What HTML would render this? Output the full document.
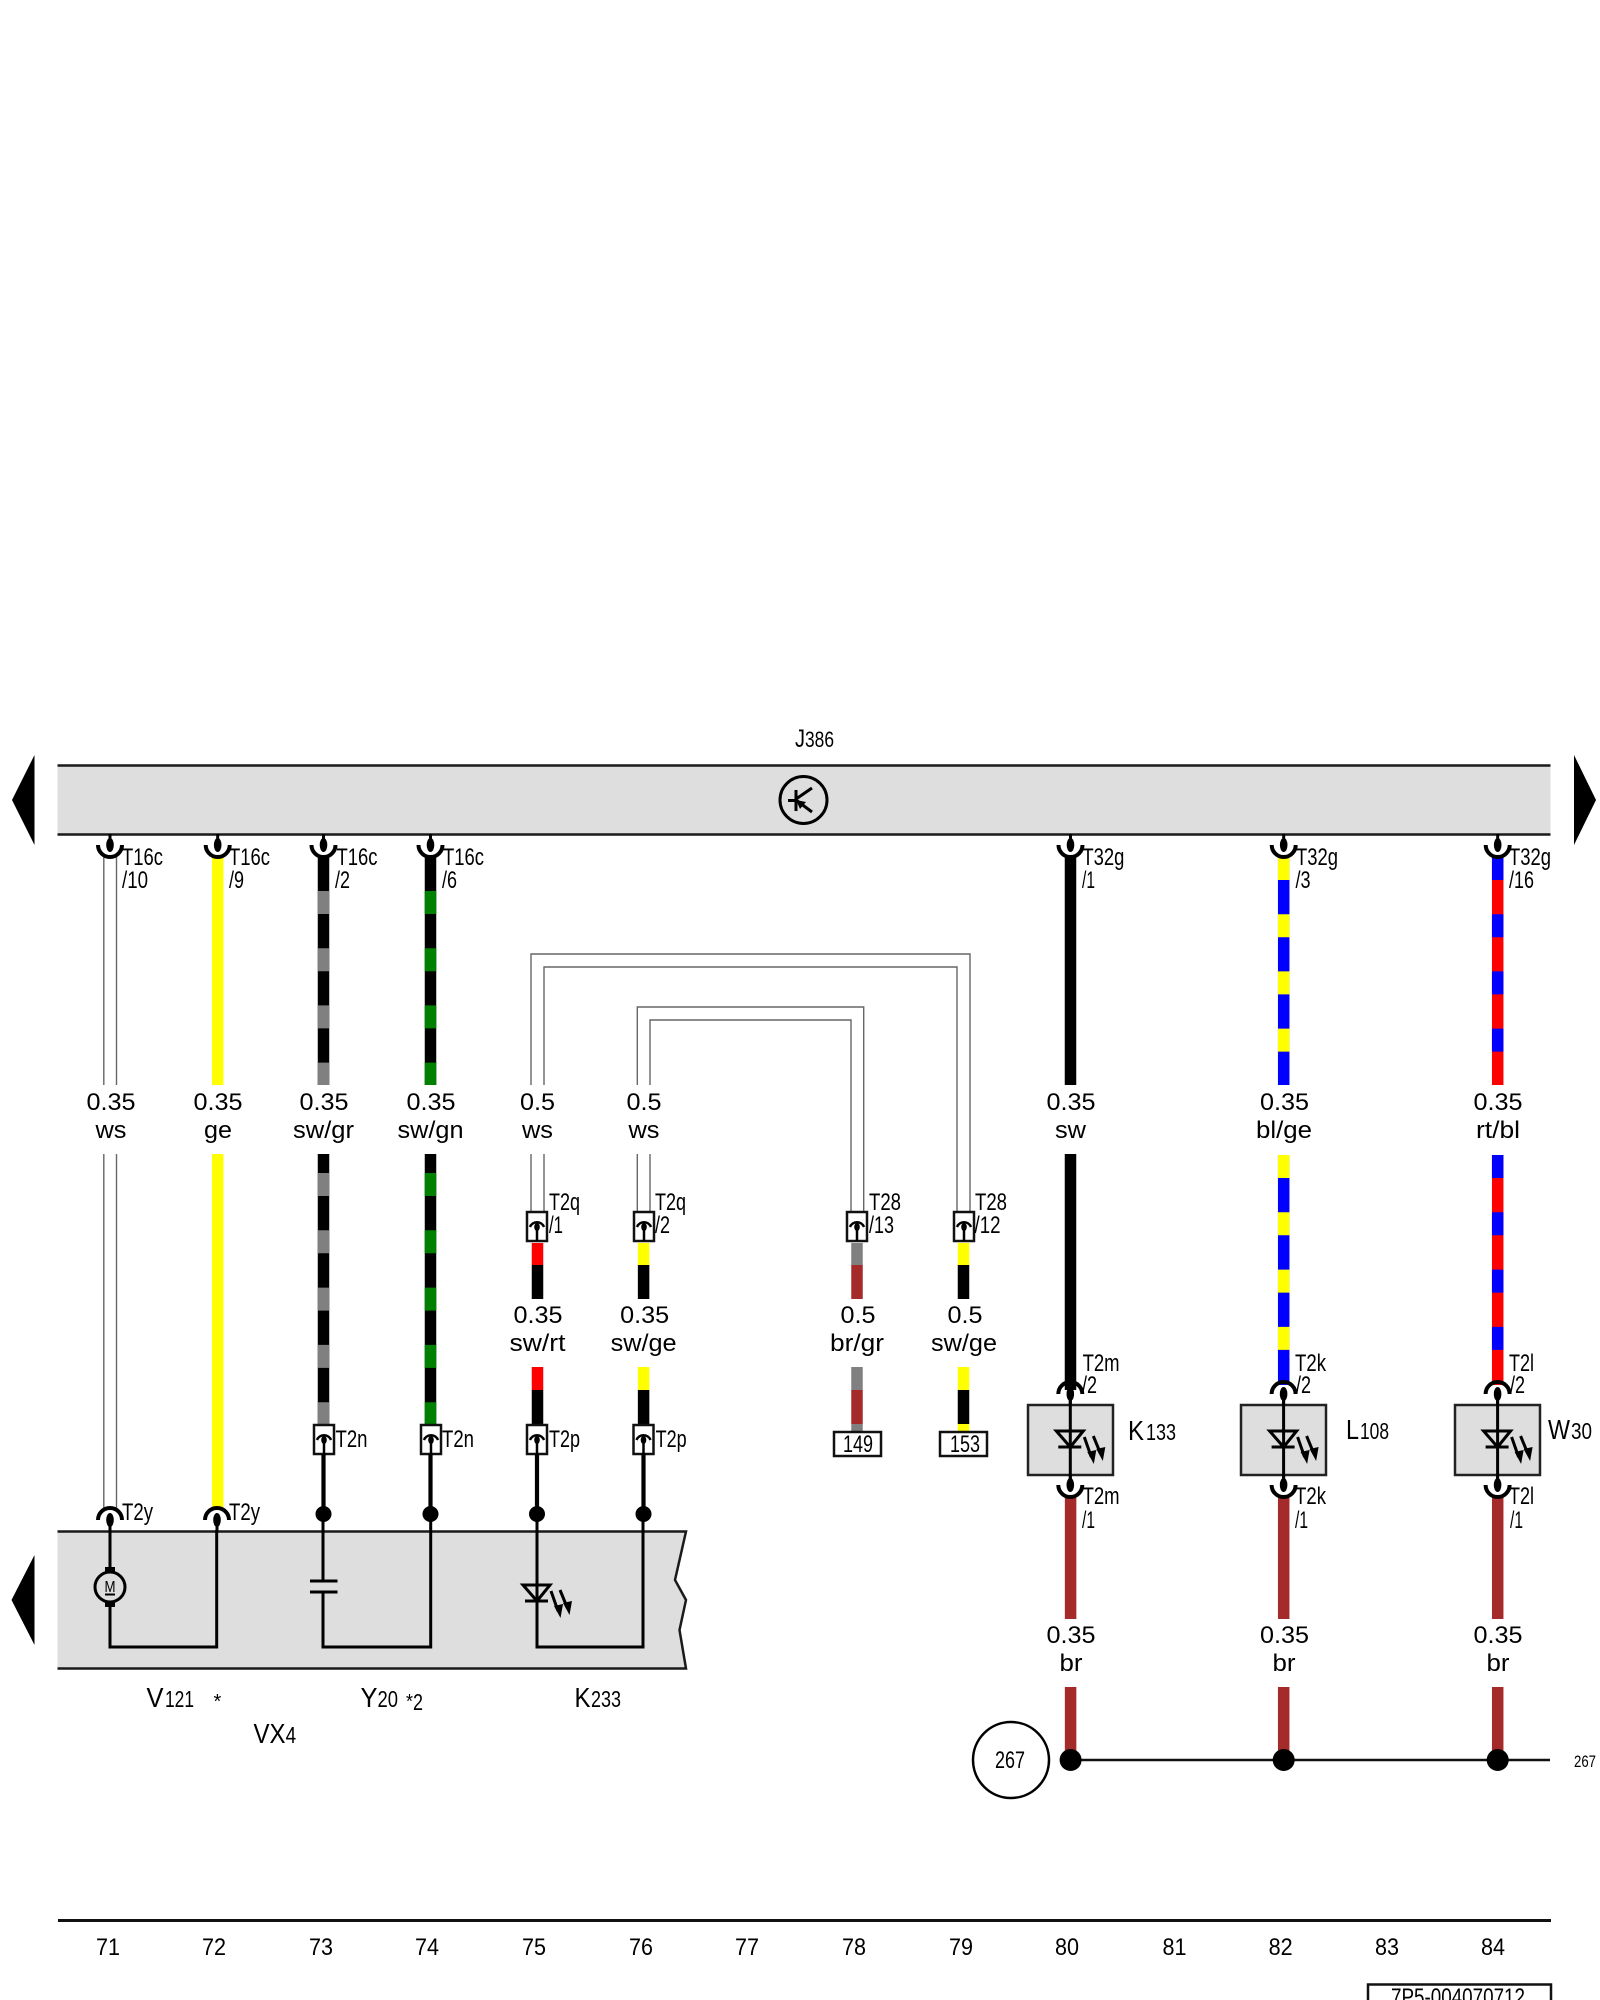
<!DOCTYPE html>
<html><head><meta charset="utf-8"><title>Wiring diagram</title>
<style>
html,body{margin:0;padding:0;background:#fff;width:1600px;height:2000px;overflow:hidden}
svg{display:block}
text{font-family:"Liberation Sans",sans-serif;font-size:24px;fill:#000}
.t{font-size:24px}
.s{font-size:23px}
.b{font-size:28px}
.c{text-anchor:middle}
</style></head><body>
<svg xmlns="http://www.w3.org/2000/svg" width="1600" height="2000" viewBox="0 0 1600 2000">
<defs>
<g id="cd"><line x1="0" y1="-11" x2="0" y2="0" stroke="#000" stroke-width="3"/><path d="M-12,0A12,12 0 0 0 12,0" fill="none" stroke="#000" stroke-width="4"/><ellipse cx="0" cy="0" rx="3.8" ry="7"/></g>
<g id="cu"><line x1="0" y1="0" x2="0" y2="11" stroke="#000" stroke-width="3"/><path d="M-12,0A12,12 0 0 1 12,0" fill="none" stroke="#000" stroke-width="4"/><ellipse cx="0" cy="0" rx="3.8" ry="7"/></g>
<g id="bx"><rect x="-10" y="0" width="20" height="29" fill="#fff" stroke="#111" stroke-width="2.5"/><path d="M-7,15A7.5,7.5 0 0 1 7,15" fill="none" stroke="#000" stroke-width="2.5"/><line x1="0" y1="14" x2="0" y2="29" stroke="#000" stroke-width="2.5"/><ellipse cx="0" cy="15" rx="2.8" ry="4"/></g>
<g id="led"><path d="M-14,-16H13L0,0Z" fill="none" stroke="#000" stroke-width="3"/><line x1="-12" y1="0" x2="11" y2="0" stroke="#000" stroke-width="3"/><line x1="14" y1="-10" x2="21" y2="10" stroke="#000" stroke-width="3"/><polygon points="17,5 26,3 23.5,17"/><line x1="23" y1="-11" x2="30" y2="6" stroke="#000" stroke-width="3"/><polygon points="26,2 35,0 32.5,14"/></g>
</defs>

<!-- top bar -->
<rect x="57.5" y="765" width="1493" height="69" fill="#dedede"/>
<line x1="57.5" y1="765.5" x2="1550.5" y2="765.5" stroke="#1a1a1a" stroke-width="2.5"/>
<line x1="57.5" y1="834.5" x2="1550.5" y2="834.5" stroke="#1a1a1a" stroke-width="2.5"/>
<polygon points="12,800 34.5,755 34.5,845"/>
<polygon points="1596,800 1574,755 1574,845"/>
<circle cx="803.5" cy="800" r="23.5" fill="none" stroke="#000" stroke-width="3"/>
<path d="M788,800.5H796M796,790V811M796,799L812,788M796,800L812,812" fill="none" stroke="#000" stroke-width="3"/>
<polygon points="796,800 806,802 800,809"/>
<text x="795" y="747" style="font-size:25px" textLength="10" lengthAdjust="spacingAndGlyphs">J</text>
<text style="font-size:22px" x="805" y="747" textLength="29" lengthAdjust="spacingAndGlyphs">386</text>

<!-- lower left box -->
<path d="M57.5,1531H686L675,1580L686,1600L679.5,1630L686,1668H57.5Z" fill="#dedede"/>
<path d="M57.5,1531.5H686L675,1580L686,1600L679.5,1630L686,1668.5H57.5" fill="none" stroke="#1a1a1a" stroke-width="2.5"/>
<polygon points="11.5,1600 34.5,1555 34.5,1645"/>

<!-- white wires -->
<g fill="none" stroke="#666" stroke-width="1.4">
<path d="M103.8,857V1085M116.5,857V1085M103.8,1154V1510M116.5,1154V1510"/>
<path d="M531,1085V954H970V1212M544,1085V967H957V1212"/>
<path d="M637.3,1085V1007H863.7V1212M650,1085V1020H851V1212"/>
<path d="M531,1154V1212M544,1154V1212M637.3,1154V1212M650,1154V1212"/>
</g>

<g stroke-width="11.5" fill="none">
<path d="M217.7,857V1085M217.7,1154V1508" stroke="#ffff00"/>
<!-- sw/gr -->
<path d="M323.5,856V1085M323.5,1154V1428" stroke="#000"/>
<path d="M323.5,891V1085" stroke="#808080" stroke-dasharray="23 34.2"/>
<path d="M323.5,1173V1425" stroke="#808080" stroke-dasharray="23 34.3"/>
<!-- sw/gn -->
<path d="M430.5,856V1085M430.5,1154V1428" stroke="#000"/>
<path d="M430.5,891V1085" stroke="#008000" stroke-dasharray="23 34.2"/>
<path d="M430.5,1173V1425" stroke="#008000" stroke-dasharray="23 34.3"/>
<!-- sw -->
<path d="M1070.5,856V1085M1070.5,1154V1390" stroke="#000"/>
<!-- bl/ge -->
<path d="M1283.7,857V1085M1283.7,1155V1385" stroke="#0000ff"/>
<path d="M1283.7,857V1085" stroke="#ffff00" stroke-dasharray="23 34.2"/>
<path d="M1283.7,1155V1383" stroke="#ffff00" stroke-dasharray="23 34.3"/>
<!-- rt/bl -->
<path d="M1497.7,857V1085M1497.7,1155V1385" stroke="#ff0000"/>
<path d="M1497.7,857V1085" stroke="#0000ff" stroke-dasharray="23 34.2"/>
<path d="M1497.7,1155V1383" stroke="#0000ff" stroke-dasharray="23 34.3"/>
<!-- br -->
<path d="M1070.6,1496V1619M1070.6,1687V1760M1283.7,1496V1619M1283.7,1687V1760M1497.7,1496V1619M1497.7,1687V1760" stroke="#a52a2a"/>
<!-- short -->
<path d="M537.5,1243V1265M537.5,1367V1390" stroke="#ff0000"/>
<path d="M537.5,1265V1299M537.5,1390V1425" stroke="#000"/>
<path d="M643.6,1243V1265M643.6,1367V1390" stroke="#ffff00"/>
<path d="M643.6,1265V1299M643.6,1390V1425" stroke="#000"/>
<path d="M857,1243V1265M857,1367V1390M857,1424V1432" stroke="#808080"/>
<path d="M857,1265V1299M857,1390V1424" stroke="#a52a2a"/>
<path d="M963.5,1243V1265M963.5,1367V1390M963.5,1424V1432" stroke="#ffff00"/>
<path d="M963.5,1265V1299M963.5,1390V1424" stroke="#000"/>
</g>

<!-- top connectors -->
<use href="#cd" x="110" y="845"/><use href="#cd" x="217.7" y="845"/><use href="#cd" x="323.5" y="845"/><use href="#cd" x="430.5" y="845"/>
<use href="#cd" x="1070.5" y="845"/><use href="#cd" x="1283.7" y="845"/><use href="#cd" x="1497.7" y="845"/>

<!-- in-line boxes -->
<use href="#bx" x="537" y="1212"/><use href="#bx" x="644" y="1212"/><use href="#bx" x="857" y="1212"/><use href="#bx" x="964" y="1212"/>
<use href="#bx" x="324" y="1425"/><use href="#bx" x="431" y="1425"/><use href="#bx" x="537" y="1425"/><use href="#bx" x="643.5" y="1425"/>

<!-- thick stubs and dots -->
<g stroke="#000" stroke-width="4.2"><path d="M323.5,1454V1514M430.5,1454V1514M537,1454V1514M643.5,1454V1514"/></g>
<circle cx="323.5" cy="1514" r="8"/><circle cx="430.5" cy="1514" r="8"/><circle cx="537" cy="1514" r="8"/><circle cx="643.5" cy="1514" r="8"/>
<use href="#cu" x="110" y="1520"/><use href="#cu" x="217" y="1520"/>

<!-- internal wiring -->
<g fill="none" stroke="#000" stroke-width="3">
<path d="M110,1530V1567M110,1607V1647H216.7V1530"/>
<path d="M323,1520V1581M323,1592V1647H430.7V1520"/>
<path d="M537,1520V1647H643V1520"/>
<path d="M310,1581H337.5M310,1592H337.5"/>
</g>
<circle cx="110" cy="1587" r="15" fill="none" stroke="#000" stroke-width="3"/>
<rect x="105" y="1567" width="10" height="6"/><rect x="105" y="1601" width="10" height="6"/>
<text x="110" y="1592" style="font-size:16px" class="c" textLength="11" lengthAdjust="spacingAndGlyphs">M</text>
<rect x="105" y="1593.5" width="10" height="2"/>
<use href="#led" x="537" y="1601"/>

<!-- device boxes -->
<g fill="#dedede" stroke="#222" stroke-width="2.5">
<rect x="1028" y="1405" width="85" height="70"/><rect x="1241" y="1405" width="85" height="70"/><rect x="1455" y="1405" width="85" height="70"/>
</g>
<g stroke="#000" stroke-width="3"><path d="M1070.3,1394V1486M1283.6,1394V1486M1497.6,1394V1486"/></g>
<use href="#led" x="1070.3" y="1447"/><use href="#led" x="1283.6" y="1447"/><use href="#led" x="1497.6" y="1447"/>
<use href="#cu" x="1070.3" y="1394"/><use href="#cu" x="1283.6" y="1394"/><use href="#cu" x="1497.6" y="1394"/>
<use href="#cd" x="1070.3" y="1485"/><use href="#cd" x="1283.6" y="1485"/><use href="#cd" x="1497.6" y="1485"/>

<!-- ground line -->
<line x1="1070" y1="1760" x2="1550" y2="1760" stroke="#111" stroke-width="2.5"/>
<circle cx="1070.6" cy="1760" r="11"/><circle cx="1283.7" cy="1760" r="11"/><circle cx="1497.7" cy="1760" r="11"/>
<circle cx="1011" cy="1760" r="38" fill="#fff" stroke="#000" stroke-width="2.5"/>
<text x="1010" y="1768" class="c" textLength="30" lengthAdjust="spacingAndGlyphs">267</text>
<text x="1585" y="1767" class="c" style="font-size:17px" textLength="22" lengthAdjust="spacingAndGlyphs">267</text>

<!-- number boxes -->
<rect x="834" y="1432" width="47" height="24" fill="#fff" stroke="#111" stroke-width="2.5"/>
<rect x="940" y="1432" width="47" height="24" fill="#fff" stroke="#111" stroke-width="2.5"/>
<text x="858" y="1452" class="c" textLength="30" lengthAdjust="spacingAndGlyphs">149</text>
<text x="965" y="1452" class="c" textLength="30" lengthAdjust="spacingAndGlyphs">153</text>

<!-- connector labels -->
<g>
<text class="t" x="122" y="865" textLength="41" lengthAdjust="spacingAndGlyphs">T16c</text><text class="t" x="122" y="888" textLength="26" lengthAdjust="spacingAndGlyphs">/10</text>
<text class="t" x="229" y="865" textLength="41" lengthAdjust="spacingAndGlyphs">T16c</text><text class="t" x="229" y="888" textLength="15" lengthAdjust="spacingAndGlyphs">/9</text>
<text class="t" x="336.5" y="865" textLength="41" lengthAdjust="spacingAndGlyphs">T16c</text><text class="t" x="335" y="888" textLength="15" lengthAdjust="spacingAndGlyphs">/2</text>
<text class="t" x="443" y="865" textLength="41" lengthAdjust="spacingAndGlyphs">T16c</text><text class="t" x="442" y="888" textLength="15" lengthAdjust="spacingAndGlyphs">/6</text>
<text class="t" x="1082.4" y="865" textLength="42" lengthAdjust="spacingAndGlyphs">T32g</text><text class="t" x="1082" y="888" textLength="13" lengthAdjust="spacingAndGlyphs">/1</text>
<text class="t" x="1296" y="865" textLength="42" lengthAdjust="spacingAndGlyphs">T32g</text><text class="t" x="1295.5" y="888" textLength="15" lengthAdjust="spacingAndGlyphs">/3</text>
<text class="t" x="1509" y="865" textLength="42" lengthAdjust="spacingAndGlyphs">T32g</text><text class="t" x="1509" y="888" textLength="25" lengthAdjust="spacingAndGlyphs">/16</text>

<text class="t" x="549" y="1210" textLength="31" lengthAdjust="spacingAndGlyphs">T2q</text><text class="t" x="549" y="1233" textLength="14" lengthAdjust="spacingAndGlyphs">/1</text>
<text class="t" x="655" y="1210" textLength="31" lengthAdjust="spacingAndGlyphs">T2q</text><text class="t" x="655" y="1233" textLength="15" lengthAdjust="spacingAndGlyphs">/2</text>
<text class="t" x="869" y="1210" textLength="32" lengthAdjust="spacingAndGlyphs">T28</text><text class="t" x="869" y="1233" textLength="25" lengthAdjust="spacingAndGlyphs">/13</text>
<text class="t" x="975" y="1210" textLength="32" lengthAdjust="spacingAndGlyphs">T28</text><text class="t" x="974.5" y="1233" textLength="26" lengthAdjust="spacingAndGlyphs">/12</text>

<text class="t" x="335.5" y="1447" textLength="32" lengthAdjust="spacingAndGlyphs">T2n</text>
<text class="t" x="442" y="1447" textLength="32" lengthAdjust="spacingAndGlyphs">T2n</text>
<text class="t" x="549" y="1447" textLength="31" lengthAdjust="spacingAndGlyphs">T2p</text>
<text class="t" x="655.6" y="1447" textLength="31" lengthAdjust="spacingAndGlyphs">T2p</text>
<text class="t" x="122" y="1520" textLength="31" lengthAdjust="spacingAndGlyphs">T2y</text>
<text class="t" x="229" y="1520" textLength="31" lengthAdjust="spacingAndGlyphs">T2y</text>

<text class="t" x="1082.6" y="1371" textLength="37" lengthAdjust="spacingAndGlyphs">T2m</text><text class="t" x="1082" y="1393" textLength="15" lengthAdjust="spacingAndGlyphs">/2</text>
<text class="t" x="1082.6" y="1504" textLength="37" lengthAdjust="spacingAndGlyphs">T2m</text><text class="t" x="1082" y="1528" textLength="13" lengthAdjust="spacingAndGlyphs">/1</text>
<text class="t" x="1295" y="1371" textLength="31" lengthAdjust="spacingAndGlyphs">T2k</text><text class="t" x="1296" y="1393" textLength="15" lengthAdjust="spacingAndGlyphs">/2</text>
<text class="t" x="1295" y="1504" textLength="31" lengthAdjust="spacingAndGlyphs">T2k</text><text class="t" x="1295" y="1528" textLength="13" lengthAdjust="spacingAndGlyphs">/1</text>
<text class="t" x="1509" y="1371" textLength="25" lengthAdjust="spacingAndGlyphs">T2l</text><text class="t" x="1510" y="1393" textLength="15" lengthAdjust="spacingAndGlyphs">/2</text>
<text class="t" x="1509" y="1504" textLength="25" lengthAdjust="spacingAndGlyphs">T2l</text><text class="t" x="1510" y="1528" textLength="13" lengthAdjust="spacingAndGlyphs">/1</text>
</g>

<!-- wire labels -->
<g>
<text class="c" x="111" y="1110" textLength="49" lengthAdjust="spacingAndGlyphs">0.35</text><text class="c" x="111" y="1138" textLength="31" lengthAdjust="spacingAndGlyphs">ws</text>
<text class="c" x="218" y="1110" textLength="49" lengthAdjust="spacingAndGlyphs">0.35</text><text class="c" x="218" y="1138" textLength="28" lengthAdjust="spacingAndGlyphs">ge</text>
<text class="c" x="324" y="1110" textLength="49" lengthAdjust="spacingAndGlyphs">0.35</text><text class="c" x="323.5" y="1138" textLength="61" lengthAdjust="spacingAndGlyphs">sw/gr</text>
<text class="c" x="431" y="1110" textLength="49" lengthAdjust="spacingAndGlyphs">0.35</text><text class="c" x="430.5" y="1138" textLength="66" lengthAdjust="spacingAndGlyphs">sw/gn</text>
<text class="c" x="537.5" y="1110" textLength="35" lengthAdjust="spacingAndGlyphs">0.5</text><text class="c" x="537.5" y="1138" textLength="31" lengthAdjust="spacingAndGlyphs">ws</text>
<text class="c" x="644" y="1110" textLength="35" lengthAdjust="spacingAndGlyphs">0.5</text><text class="c" x="644" y="1138" textLength="31" lengthAdjust="spacingAndGlyphs">ws</text>
<text class="c" x="1071" y="1110" textLength="49" lengthAdjust="spacingAndGlyphs">0.35</text><text class="c" x="1070.5" y="1138" textLength="31" lengthAdjust="spacingAndGlyphs">sw</text>
<text class="c" x="1284.5" y="1110" textLength="49" lengthAdjust="spacingAndGlyphs">0.35</text><text class="c" x="1284" y="1138" textLength="56" lengthAdjust="spacingAndGlyphs">bl/ge</text>
<text class="c" x="1498" y="1110" textLength="49" lengthAdjust="spacingAndGlyphs">0.35</text><text class="c" x="1498" y="1138" textLength="44" lengthAdjust="spacingAndGlyphs">rt/bl</text>

<text class="c" x="538" y="1323" textLength="49" lengthAdjust="spacingAndGlyphs">0.35</text><text class="c" x="537.5" y="1351" textLength="56" lengthAdjust="spacingAndGlyphs">sw/rt</text>
<text class="c" x="644.6" y="1323" textLength="49" lengthAdjust="spacingAndGlyphs">0.35</text><text class="c" x="643.6" y="1351" textLength="66" lengthAdjust="spacingAndGlyphs">sw/ge</text>
<text class="c" x="858" y="1323" textLength="35" lengthAdjust="spacingAndGlyphs">0.5</text><text class="c" x="857" y="1351" textLength="54" lengthAdjust="spacingAndGlyphs">br/gr</text>
<text class="c" x="965" y="1323" textLength="35" lengthAdjust="spacingAndGlyphs">0.5</text><text class="c" x="964" y="1351" textLength="66" lengthAdjust="spacingAndGlyphs">sw/ge</text>

<text class="c" x="1071" y="1643" textLength="49" lengthAdjust="spacingAndGlyphs">0.35</text><text class="c" x="1071" y="1671" textLength="23" lengthAdjust="spacingAndGlyphs">br</text>
<text class="c" x="1284.5" y="1643" textLength="49" lengthAdjust="spacingAndGlyphs">0.35</text><text class="c" x="1284" y="1671" textLength="23" lengthAdjust="spacingAndGlyphs">br</text>
<text class="c" x="1498" y="1643" textLength="49" lengthAdjust="spacingAndGlyphs">0.35</text><text class="c" x="1498" y="1671" textLength="23" lengthAdjust="spacingAndGlyphs">br</text>
</g>

<!-- component names -->
<g>
<text class="b" x="1128" y="1440" textLength="16" lengthAdjust="spacingAndGlyphs">K</text><text class="s" x="1146" y="1440" textLength="30" lengthAdjust="spacingAndGlyphs">133</text>
<text class="b" x="1346" y="1439" textLength="13" lengthAdjust="spacingAndGlyphs">L</text><text class="s" x="1360" y="1439" textLength="29" lengthAdjust="spacingAndGlyphs">108</text>
<text class="b" x="1548" y="1439" textLength="22" lengthAdjust="spacingAndGlyphs">W</text><text class="s" x="1571" y="1439" textLength="21" lengthAdjust="spacingAndGlyphs">30</text>
<text class="b" x="146.5" y="1707" textLength="17" lengthAdjust="spacingAndGlyphs">V</text><text class="s" x="165" y="1707" textLength="29" lengthAdjust="spacingAndGlyphs">121</text>
<text style="font-size:20px" x="213.5" y="1708">*</text>
<text class="b" x="360.5" y="1707" textLength="17" lengthAdjust="spacingAndGlyphs">Y</text><text class="s" x="377.5" y="1707" textLength="20.5" lengthAdjust="spacingAndGlyphs">20</text>
<text style="font-size:20px" x="406" y="1708" textLength="7" lengthAdjust="spacingAndGlyphs">*</text><text class="s" x="413" y="1710" textLength="10" lengthAdjust="spacingAndGlyphs">2</text>
<text class="b" x="574.5" y="1707" textLength="16" lengthAdjust="spacingAndGlyphs">K</text><text class="s" x="591" y="1707" textLength="30" lengthAdjust="spacingAndGlyphs">233</text>
<text class="b" x="253.5" y="1743" textLength="32" lengthAdjust="spacingAndGlyphs">VX</text><text class="s" x="285.6" y="1743" textLength="10.5" lengthAdjust="spacingAndGlyphs">4</text>
</g>

<!-- footer -->
<line x1="58" y1="1920.5" x2="1551" y2="1920.5" stroke="#111" stroke-width="3"/>
<g>
<text class="c" x="108" y="1955" textLength="24" lengthAdjust="spacingAndGlyphs">71</text><text class="c" x="214" y="1955" textLength="24" lengthAdjust="spacingAndGlyphs">72</text><text class="c" x="321" y="1955" textLength="24" lengthAdjust="spacingAndGlyphs">73</text><text class="c" x="427" y="1955" textLength="24" lengthAdjust="spacingAndGlyphs">74</text><text class="c" x="534" y="1955" textLength="24" lengthAdjust="spacingAndGlyphs">75</text><text class="c" x="641" y="1955" textLength="24" lengthAdjust="spacingAndGlyphs">76</text><text class="c" x="747" y="1955" textLength="24" lengthAdjust="spacingAndGlyphs">77</text><text class="c" x="854" y="1955" textLength="24" lengthAdjust="spacingAndGlyphs">78</text><text class="c" x="961" y="1955" textLength="24" lengthAdjust="spacingAndGlyphs">79</text><text class="c" x="1067" y="1955" textLength="24" lengthAdjust="spacingAndGlyphs">80</text><text class="c" x="1174.5" y="1955" textLength="24" lengthAdjust="spacingAndGlyphs">81</text><text class="c" x="1280.6" y="1955" textLength="24" lengthAdjust="spacingAndGlyphs">82</text><text class="c" x="1387" y="1955" textLength="24" lengthAdjust="spacingAndGlyphs">83</text><text class="c" x="1493" y="1955" textLength="24" lengthAdjust="spacingAndGlyphs">84</text>
</g>
<path d="M1368,2002V1984.5H1551V2002" fill="none" stroke="#111" stroke-width="2.5"/>
<text class="c" x="1458" y="2005" textLength="134" lengthAdjust="spacingAndGlyphs">7P5-004070712</text>
</svg>
</body></html>
